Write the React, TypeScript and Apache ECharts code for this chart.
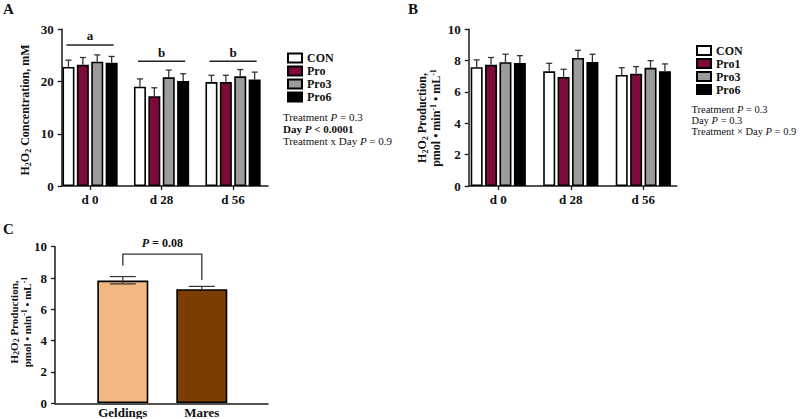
import React, { useEffect, useRef } from "react";
import * as echarts from "echarts";

// ---------- data ----------
const days = ["d 0", "d 28", "d 56"];
const groupsA = ["CON", "Pro", "Pro3", "Pro6"];
const groupsB = ["CON", "Pro1", "Pro3", "Pro6"];

// Panel A: H2O2 concentration, mM (mean and SE)
const aCON = [22.8, 19.0, 19.9];
const aPro = [23.2, 17.2, 19.9];
const aPro3 = [23.8, 20.8, 21.0];
const aPro6 = [23.6, 20.1, 20.4];
const aCONse = [1.3, 1.5, 1.3];
const aProse = [1.4, 1.6, 1.3];
const aPro3se = [1.3, 1.4, 1.3];
const aPro6se = [1.2, 1.4, 1.4];
const aLetters = ["a", "b", "b"];
const aLetterLevel = [27.0, 23.9, 23.9];

// Panel B: H2O2 production
const bCON = [7.58, 7.32, 7.09];
const bPro1 = [7.73, 6.96, 7.17];
const bPro3 = [7.9, 8.17, 7.54];
const bPro6 = [7.85, 7.92, 7.32];
const bCONse = [0.47, 0.51, 0.46];
const bPro1se = [0.47, 0.49, 0.45];
const bPro3se = [0.51, 0.49, 0.46];
const bPro6se = [0.47, 0.49, 0.47];

// Panel C
const cGroups = ["Geldings", "Mares"];
const cMeans = [7.83, 7.28];
const cSEup = [0.26, 0.18];
const cSEdown = [0.21, 0];
const cBracketTop = 9.53;
const cBracketEnds = [8.79, 7.87];
const cPValue = "0.08";

// ticks
const aTicks = { min: 0, max: 30, interval: 10 };
const bTicks = { min: 0, max: 10, interval: 2 };
const cTicks = { min: 0, max: 10, interval: 2 };

// ---------- styles ----------
const FONT = "'Liberation Serif', 'Times New Roman', Times, serif";
const groupColors = ["#ffffff", "#7c0a3b", "#9b9b9b", "#000000"];
const cColors = ["#f2b882", "#7b3d02"];
const AXIS = "#1a1a1a";
const BAR_W = 12;
const GAP_W = 2.4;

function errorRender(seriesIdx: number, nSeries: number) {
  return (params: any, api: any) => {
    const cat = api.value(0);
    const mean = api.value(1);
    const se = api.value(2);
    const base = api.coord([cat, mean]);
    const top = api.coord([cat, mean + se]);
    const groupW = nSeries * BAR_W + (nSeries - 1) * GAP_W;
    const x = base[0] - groupW / 2 + BAR_W / 2 + seriesIdx * (BAR_W + GAP_W);
    const st = { stroke: "#333", lineWidth: 1.3 };
    return {
      type: "group",
      children: [
        { type: "line", shape: { x1: x, y1: base[1], x2: x, y2: top[1] }, style: st },
        { type: "line", shape: { x1: x - 3, y1: top[1], x2: x + 3, y2: top[1] }, style: st },
      ],
    };
  };
}

const textBase = { fontFamily: FONT, color: "#111" };

function App() {
  const ref = useRef<HTMLDivElement>(null);
  useEffect(() => {
    if (!ref.current) return;
    document.body.style.margin = "0";
    const chart = echarts.init(ref.current, null, { renderer: "svg" });

    const gridTopAB = 29.3;
    const gridHAB = 156.7;
    const gridTopC = 246.7;
    const gridHC = 156.6;

    const grids = [
      { left: 54.3, top: gridTopAB, width: 214.5, height: gridHAB },
      { left: 61.7, top: gridTopAB, width: 206.3, height: gridHAB },
      { left: 462, top: gridTopAB, width: 217.6, height: gridHAB },
      { left: 468.7, top: gridTopAB, width: 208, height: gridHAB },
      { left: 83.3, top: gridTopC, width: 158, height: gridHC },
      { left: 55, top: gridTopC, width: 213, height: gridHC },
    ];

    const catAxis = (gridIndex: number, data: string[], ticks: boolean, margin: number) => ({
      type: "category",
      gridIndex,
      data,
      axisLine: { show: false },
      axisTick: ticks
        ? { show: true, alignWithLabel: true, length: 4, lineStyle: { color: AXIS, width: 1.3 } }
        : { show: false },
      axisLabel: { ...textBase, fontWeight: "bold", fontSize: 13, margin },
      splitLine: { show: false },
    });
    const lineXAxis = (gridIndex: number) => ({
      type: "value",
      gridIndex,
      min: 0,
      max: 1,
      axisLine: { show: true, lineStyle: { color: AXIS, width: 1.5 } },
      axisTick: { show: false },
      axisLabel: { show: false },
      splitLine: { show: false },
    });
    const hiddenY = (gridIndex: number, t: any) => ({
      type: "value",
      gridIndex,
      min: t.min,
      max: t.max,
      show: false,
      splitLine: { show: false },
    });
    const shownY = (gridIndex: number, t: any) => ({
      type: "value",
      gridIndex,
      min: t.min,
      max: t.max,
      interval: t.interval,
      axisLine: { show: true, lineStyle: { color: AXIS, width: 1.5 } },
      axisTick: { show: true, length: 4, lineStyle: { color: AXIS, width: 1.3 } },
      axisLabel: { ...textBase, fontWeight: "bold", fontSize: 13, margin: 8 },
      splitLine: { show: false },
    });

    const series: any[] = [];
    const addGrouped = (
      names: string[],
      means: number[][],
      ses: number[][],
      axisIdx: number
    ) => {
      names.forEach((n, i) => {
        series.push({
          type: "bar",
          name: n,
          xAxisIndex: axisIdx,
          yAxisIndex: axisIdx,
          barWidth: BAR_W,
          barGap: "20%",
          data: means[i],
          itemStyle: { color: groupColors[i], borderColor: "#000", borderWidth: 1.6 },
          z: 2,
        });
      });
      names.forEach((n, i) => {
        series.push({
          type: "custom",
          name: n + " SE",
          xAxisIndex: axisIdx,
          yAxisIndex: axisIdx,
          renderItem: errorRender(i, names.length),
          data: means[i].map((m, k) => [k, m, ses[i][k]]),
          z: 3,
          silent: true,
        });
      });
    };

    addGrouped(groupsA, [aCON, aPro, aPro3, aPro6], [aCONse, aProse, aPro3se, aPro6se], 0);
    addGrouped(groupsB, [bCON, bPro1, bPro3, bPro6], [bCONse, bPro1se, bPro3se, bPro6se], 2);

    // significance letters in A
    series.push({
      type: "custom",
      xAxisIndex: 0,
      yAxisIndex: 0,
      silent: true,
      z: 4,
      data: aLetterLevel.map((v, k) => [k, v]),
      renderItem: (params: any, api: any) => {
        const p = api.coord([api.value(0), api.value(1)]);
        const band = api.size([1, 0])[0];
        const half = band * 0.33;
        return {
          type: "group",
          children: [
            {
              type: "line",
              shape: { x1: p[0] - half, y1: p[1], x2: p[0] + half, y2: p[1] },
              style: { stroke: "#222", lineWidth: 1.5 },
            },
            {
              type: "text",
              x: p[0],
              y: p[1] - 9,
              style: {
                text: aLetters[params.dataIndex],
                fontFamily: FONT,
                fontWeight: "bold",
                fontSize: 13,
                fill: "#111",
                align: "center",
                verticalAlign: "middle",
              },
            },
          ],
        };
      },
    });

    // Panel C bars
    series.push({
      type: "bar",
      name: "C",
      xAxisIndex: 4,
      yAxisIndex: 4,
      barWidth: 51,
      data: cMeans.map((v, i) => ({
        value: v,
        itemStyle: { color: cColors[i], borderColor: "#000", borderWidth: 1.6 },
      })),
      z: 2,
    });
    series.push({
      type: "custom",
      xAxisIndex: 4,
      yAxisIndex: 4,
      silent: true,
      z: 3,
      data: cMeans.map((m, k) => [k, m, cSEup[k], cSEdown[k]]),
      renderItem: (params: any, api: any) => {
        const cat = api.value(0);
        const m = api.value(1);
        const up = api.coord([cat, m + api.value(2)]);
        const base = api.coord([cat, m]);
        const lowV = api.value(3);
        const st = { stroke: "#333", lineWidth: 1.2 };
        const ch: any[] = [
          { type: "line", shape: { x1: up[0], y1: base[1], x2: up[0], y2: up[1] }, style: st },
          { type: "line", shape: { x1: up[0] - 13, y1: up[1], x2: up[0] + 13, y2: up[1] }, style: st },
        ];
        if (lowV > 0) {
          const lo = api.coord([cat, m - lowV]);
          ch.push({ type: "line", shape: { x1: lo[0], y1: base[1], x2: lo[0], y2: lo[1] }, style: st });
          ch.push({ type: "line", shape: { x1: lo[0] - 13, y1: lo[1], x2: lo[0] + 13, y2: lo[1] }, style: st });
        }
        return { type: "group", children: ch };
      },
    });
    // bracket
    series.push({
      type: "custom",
      xAxisIndex: 4,
      yAxisIndex: 4,
      silent: true,
      z: 4,
      data: [[0, 1, cBracketTop, cBracketEnds[0], cBracketEnds[1]]],
      renderItem: (params: any, api: any) => {
        const l = api.value(0);
        const r = api.value(1);
        const top = api.value(2);
        const pLb = api.coord([l, api.value(3)]);
        const pLt = api.coord([l, top]);
        const pRt = api.coord([r, top]);
        const pRb = api.coord([r, api.value(4)]);
        return {
          type: "group",
          children: [
            {
              type: "polyline",
              shape: { points: [pLb, pLt, pRt, pRb] },
              style: { stroke: "#333", lineWidth: 1.3, fill: null },
            },
            {
              type: "text",
              x: (pLt[0] + pRt[0]) / 2,
              y: pLt[1] - 11,
              style: {
                text: "{i|P}{b| = " + cPValue + "}",
                align: "center",
                verticalAlign: "middle",
                rich: {
                  i: { fontFamily: FONT, fontWeight: "bold", fontStyle: "italic", fontSize: 12, fill: "#111" },
                  b: { fontFamily: FONT, fontWeight: "bold", fontSize: 12, fill: "#111" },
                },
              },
            },
          ],
        };
      },
    });

    const legendCommon = {
      orient: "vertical",
      itemWidth: 14,
      itemHeight: 9,
      itemGap: 1,
      icon: "rect",
      selectedMode: false,
      textStyle: { ...textBase, fontWeight: "bold", fontSize: 12, lineHeight: 11, color: "#111" },
    };

    const richOf = (fs: number) => ({
      n: { fontFamily: FONT, fontSize: fs, fill: "#111" },
      i: { fontFamily: FONT, fontSize: fs, fontStyle: "italic", fill: "#111" },
      b: { fontFamily: FONT, fontSize: fs, fontWeight: "bold", fill: "#111" },
      bi: { fontFamily: FONT, fontSize: fs, fontWeight: "bold", fontStyle: "italic", fill: "#111" },
    });
    const statText = (x: number, y: number, text: string, fs: number) => ({
      type: "text",
      x,
      y,
      style: { text, rich: richOf(fs), verticalAlign: "middle", align: "left" },
    });

    const titleRich = (size: number) => ({
      b: { fontFamily: FONT, fontWeight: "bold", fontSize: size, lineHeight: size + 2, fill: "#111" },
      s: { fontFamily: FONT, fontWeight: "bold", fontSize: 8, lineHeight: 6, verticalAlign: "bottom", fill: "#111" },
      u: { fontFamily: FONT, fontWeight: "bold", fontSize: 8, lineHeight: 6, verticalAlign: "top", fill: "#111" },
    });
    const prodTitle =
      "{b|H}{s|2}{b|O}{s|2}{b| Production,}\n{b|pmol • min}{u|-1}{b| • mL}{u|-1}";

    const panelLetter = (x: number, y: number, t: string) => ({
      type: "text",
      x,
      y,
      style: { text: t, fontFamily: FONT, fontWeight: "bold", fontSize: 15, fill: "#111" },
    });

    const option: any = {
      animation: false,
      backgroundColor: "#fff",
      grid: grids,
      xAxis: [
        catAxis(0, days, true, 7),
        lineXAxis(1),
        catAxis(2, days, true, 7),
        lineXAxis(3),
        catAxis(4, cGroups, false, 3),
        lineXAxis(5),
      ],
      yAxis: [
        hiddenY(0, aTicks),
        shownY(1, aTicks),
        hiddenY(2, bTicks),
        shownY(3, bTicks),
        hiddenY(4, cTicks),
        shownY(5, cTicks),
      ],
      legend: [
        { ...legendCommon, left: 282, top: 47, data: groupsA },
        { ...legendCommon, left: 691, top: 39.5, data: groupsB },
      ],
      series,
      graphic: [
        panelLetter(3, 1, "A"),
        panelLetter(408, 1, "B"),
        panelLetter(3, 221, "C"),
        statText(283, 117.3, "{n|Treatment }{i|P}{n| = 0.3}", 11),
        statText(283, 129, "{b|Day }{bi|P}{b| < 0.0001}", 11),
        statText(283, 140.5, "{n|Treatment x Day }{i|P}{n| = 0.9}", 11),
        statText(691.5, 109.3, "{n|Treatment }{i|P}{n| = 0.3}", 10.5),
        statText(691.5, 120, "{n|Day }{i|P}{n| = 0.3}", 10.5),
        statText(691.5, 131, "{n|Treatment × Day }{i|P}{n| = 0.9}", 10.5),
        {
          type: "text",
          x: 25,
          y: 110,
          rotation: Math.PI / 2,
          style: {
            text: "{b|H}{s|2}{b|O}{s|2}{b| Concentration, mM}",
            rich: titleRich(12),
            align: "center",
            verticalAlign: "middle",
          },
        },
        {
          type: "text",
          x: 429,
          y: 118,
          rotation: Math.PI / 2,
          style: { text: prodTitle, rich: titleRich(12), align: "center", verticalAlign: "middle" },
        },
        {
          type: "text",
          x: 20,
          y: 322,
          rotation: Math.PI / 2,
          style: { text: prodTitle, rich: titleRich(11), align: "center", verticalAlign: "middle" },
        },
      ],
    };

    chart.setOption(option);
    return () => chart.dispose();
  }, []);

  return <div ref={ref} style={{ width: 800, height: 419 }} />;
}

export default App;
